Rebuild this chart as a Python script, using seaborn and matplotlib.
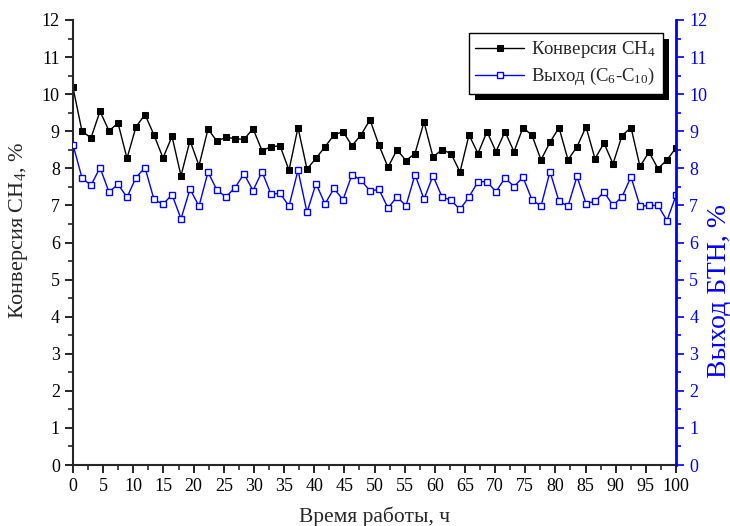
import numpy as np
import pandas as pd
import matplotlib
matplotlib.use("Agg")
import matplotlib.pyplot as plt
from matplotlib.patches import Rectangle
from matplotlib.ticker import MultipleLocator
import seaborn as sns

# ---- data ----
conv_ch4 = [10.18, 9.00, 8.82, 9.54, 9.01, 9.22, 8.27, 9.12, 9.45, 8.90, 8.28,
            8.86, 7.80, 8.75, 8.07, 9.06, 8.73, 8.84, 8.80, 8.78, 9.07, 8.48,
            8.58, 8.61, 7.95, 9.10, 7.98, 8.27, 8.58, 8.90, 8.99, 8.61, 8.90,
            9.31, 8.62, 8.03, 8.50, 8.21, 8.40, 9.25, 8.31, 8.50, 8.40, 7.90,
            8.90, 8.40, 8.99, 8.45, 8.99, 8.45, 9.10, 8.89, 8.23, 8.70, 9.10,
            8.23, 8.58, 9.12, 8.26, 8.68, 8.12, 8.88, 9.10, 8.05, 8.44, 7.99,
            8.23, 8.55]
yield_c6c10 = [8.64, 7.74, 7.54, 8.02, 7.36, 7.57, 7.22, 7.75, 8.02, 7.16, 7.03,
               7.29, 6.64, 7.44, 6.98, 7.90, 7.41, 7.23, 7.48, 7.85, 7.40, 7.91,
               7.30, 7.33, 6.98, 7.95, 6.81, 7.59, 7.04, 7.46, 7.15, 7.83, 7.68,
               7.39, 7.43, 6.93, 7.23, 6.99, 7.83, 7.17, 7.80, 7.23, 7.14, 6.89,
               7.23, 7.64, 7.64, 7.37, 7.74, 7.51, 7.76, 7.15, 6.98, 7.91, 7.11,
               6.98, 7.78, 7.05, 7.11, 7.36, 7.00, 7.23, 7.77, 6.98, 7.00, 7.00,
               6.59, 7.27]
time_h = np.linspace(0, 100, len(conv_ch4))
x_ticks = list(range(0, 101, 5))
y_ticks = list(range(0, 13))

label_conv = "Конверсия CH$_4$"
label_yield = "Выход (C$_6$-C$_{10}$)"

sns.set_style("ticks")
plt.rcParams["font.family"] = ["Liberation Serif", "DejaVu Serif"]
plt.rcParams["mathtext.fontset"] = "custom"
plt.rcParams["mathtext.rm"] = "Liberation Serif"
plt.rcParams["mathtext.it"] = "Liberation Serif:italic"
plt.rcParams["mathtext.default"] = "regular"

fig = plt.figure(figsize=(7.30, 5.26), dpi=100)
ax = fig.add_axes([73 / 730, 1 - 465 / 526, (676 - 73) / 730, (465 - 20) / 526])
ax2 = ax.twinx()

df = pd.DataFrame({"t": time_h, "conv": conv_ch4, "yld": yield_c6c10})

sns.lineplot(data=df, x="t", y="conv", ax=ax, color="black", lw=1.0,
             marker="s", markersize=5, markerfacecolor="black",
             markeredgecolor="black", label=label_conv, legend=False)
sns.lineplot(data=df, x="t", y="yld", ax=ax2, color="#0000ff", lw=1.0,
             marker="s", markersize=5, markerfacecolor="white",
             markeredgecolor="#0000ff", markeredgewidth=1.0,
             label=label_yield, legend=False)

for a in (ax, ax2):
    a.set_xlim(0, 100)
    a.set_ylim(0, 12)
    a.yaxis.set_major_locator(MultipleLocator(1))
    a.yaxis.set_minor_locator(MultipleLocator(0.5))

ax.set_xticks(x_ticks)
ax.set_xticklabels([str(v) for v in x_ticks])
ax.xaxis.set_minor_locator(MultipleLocator(2.5))
ax.set_yticks(y_ticks)
ax2.set_yticks(y_ticks)

ax.tick_params(axis="both", which="major", direction="out", length=6, width=1.2,
               labelsize=13, colors="black")
ax.tick_params(axis="both", which="minor", direction="out", length=3.5, width=1.2)
ax2.tick_params(axis="y", which="major", direction="out", length=6, width=1.2,
                labelsize=13, colors="#0000ff")
ax2.tick_params(axis="y", which="minor", direction="out", length=3.5, width=1.2,
                colors="#0000ff")

ax.spines["top"].set_visible(False)
ax.spines["right"].set_visible(False)
ax.spines["left"].set_linewidth(1.5)
ax.spines["bottom"].set_linewidth(1.5)
for s in ("top", "left", "bottom"):
    ax2.spines[s].set_visible(False)
ax2.spines["right"].set_color("#0000ff")
ax2.spines["right"].set_linewidth(2.0)

ax.set_xlabel("Время работы, ч", fontsize=15.5, labelpad=8)
ax.set_ylabel("Конверсия CH$_4$, %", fontsize=16)
ax.yaxis.set_label_coords(-0.071, 0.528)
ax2.set_ylabel("Выход БТН, %", fontsize=20, color="#0000ff")
ax2.yaxis.set_label_coords(1.05, 0.39)

h1, l1 = ax.get_legend_handles_labels()
h2, l2 = ax2.get_legend_handles_labels()
leg = ax2.legend(h1 + h2, l1 + l2, loc="upper right",
                 bbox_to_anchor=(0.978, 0.971), borderaxespad=0,
                 fontsize=13.5, frameon=True, fancybox=False,
                 edgecolor="black", framealpha=1, handlelength=2.6,
                 handletextpad=0.4, borderpad=0.35, labelspacing=0.3)
leg.get_frame().set_linewidth(1.0)
leg.set_zorder(10)

fig.canvas.draw()
bb = leg.get_window_extent()
shadow = Rectangle((bb.x0 + 6, bb.y0 - 6), bb.width, bb.height,
                   transform=None, facecolor="black", edgecolor="none",
                   zorder=9, clip_on=False)
ax2.add_artist(shadow)

fig.savefig("out.png", dpi=100)
